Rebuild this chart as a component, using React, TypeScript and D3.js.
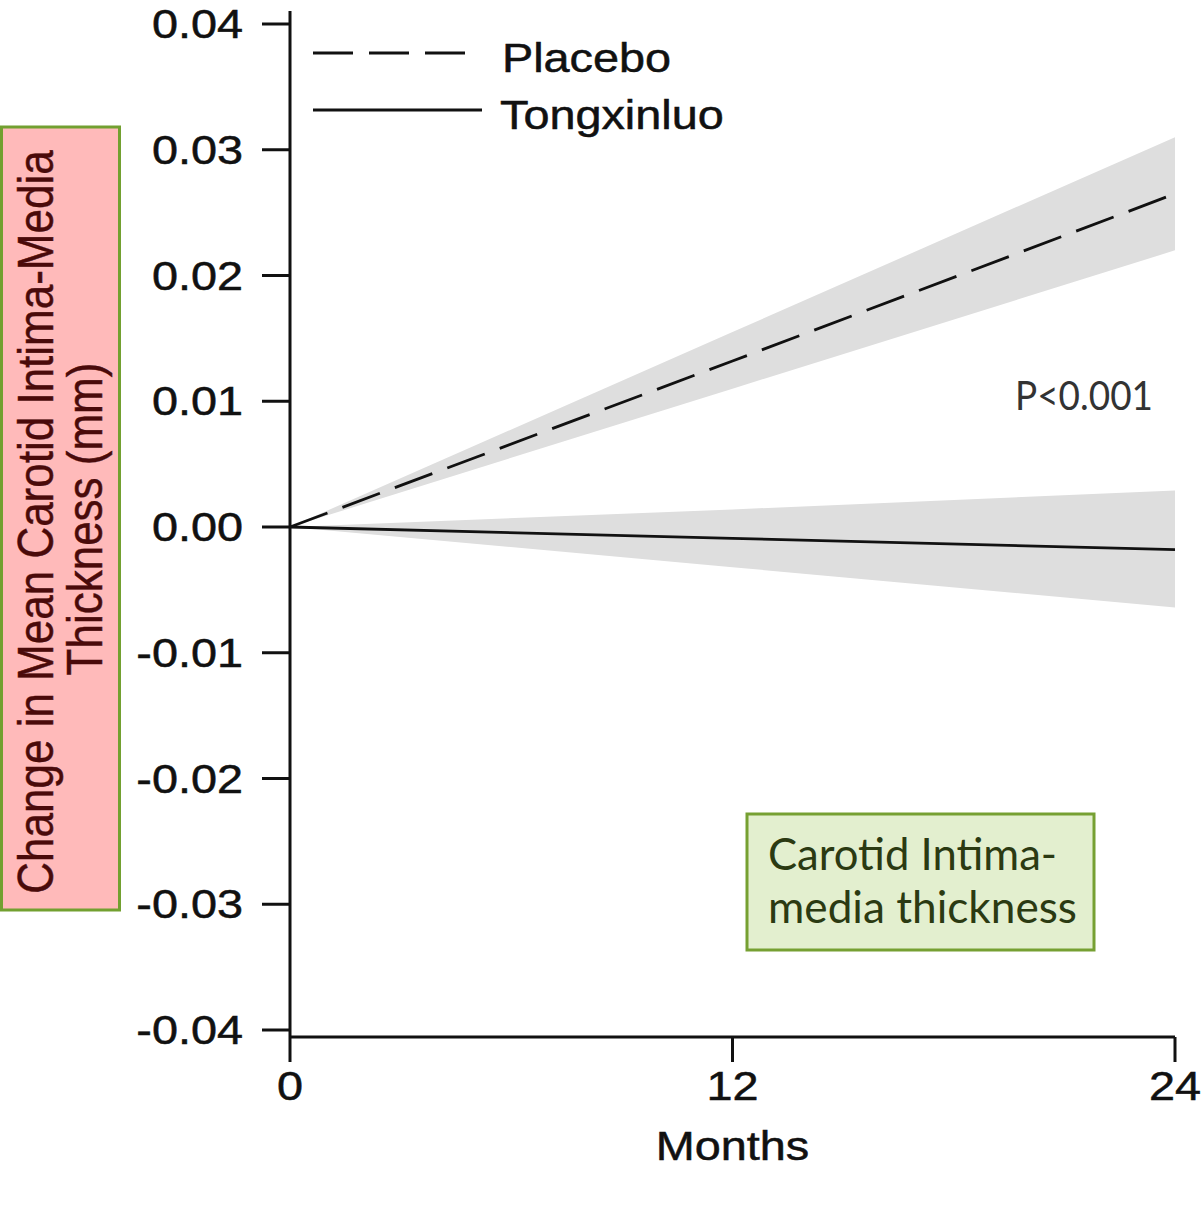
import React from 'react';
import * as d3 from 'd3';

const months = [0, 12, 24];
const placeboMean = [0, 0.0132, 0.0265];
const placeboLower = [0, 0.011, 0.022];
const placeboUpper = [0, 0.0155, 0.031];
const tongMean = [0, -0.0009, -0.0018];
const tongLower = [0, -0.0032, -0.0064];
const tongUpper = [0, 0.0014, 0.0029];

const yTicks = [0.04, 0.03, 0.02, 0.01, 0, -0.01, -0.02, -0.03, -0.04];
const xTicks = [0, 12, 24];
const legendLabels = ['Placebo', 'Tongxinluo'];

const W = 1204;
const H = 1224;
const ARIAL = 'Liberation Sans, Arial, sans-serif';
const SX = 1.17; // the original picture is stretched sideways

const x = d3.scaleLinear().domain([0, 24]).range([290, 1175]);
const y = d3.scaleLinear().domain([-0.04, 0.04]).range([1030, 24]);

type Row = { m: number; mean: number; lo: number; hi: number };

function rows(mean: number[], lo: number[], hi: number[]): Row[] {
  return months.map((m, i) => ({ m, mean: mean[i], lo: lo[i], hi: hi[i] }));
}

const area = d3
  .area<Row>()
  .x((d) => x(d.m))
  .y0((d) => y(d.lo))
  .y1((d) => y(d.hi));
const line = d3
  .line<Row>()
  .x((d) => x(d.m))
  .y((d) => y(d.mean));

function SText(props: {
  x: number;
  y: number;
  anchor?: string;
  size?: number;
  children: React.ReactNode;
}) {
  return (
    <text
      transform={`translate(${props.x},${props.y}) scale(${SX},1)`}
      textAnchor={props.anchor || 'start'}
      fontFamily={ARIAL}
      fontSize={props.size || 40}
      fill="#111"
      stroke="#111"
      strokeWidth={0.5}
    >
      {props.children}
    </text>
  );
}

export default function App() {
  const placebo = rows(placeboMean, placeboLower, placeboUpper);
  const tong = rows(tongMean, tongLower, tongUpper);
  const fmt = (v: number) => d3.format('.2f')(v).replace('−', '-');
  const axisY = y(-0.04) + 7;
  const sw = 3;

  return (
    <svg
      width={W}
      height={H}
      style={{ position: 'absolute', left: 0, top: 0, background: '#fff' }}
    >
      {/* confidence bands */}
      <path d={area(placebo) || ''} fill="#dedede" />
      <path d={area(tong) || ''} fill="#dedede" />

      {/* mean lines */}
      <path
        d={line(placebo) || ''}
        fill="none"
        stroke="#111"
        strokeWidth={2.8}
        strokeDasharray="40,16"
      />
      <path d={line(tong) || ''} fill="none" stroke="#111" strokeWidth={2.8} />

      {/* y axis */}
      <line x1={290} x2={290} y1={11} y2={axisY} stroke="#111" strokeWidth={sw} />
      {yTicks.map((t) => (
        <g key={t}>
          <line x1={262} x2={290} y1={y(t)} y2={y(t)} stroke="#111" strokeWidth={sw} />
          <SText x={243} y={y(t) + 14} anchor="end">
            {fmt(t)}
          </SText>
        </g>
      ))}

      {/* x axis */}
      <line x1={x(0)} x2={x(24)} y1={axisY} y2={axisY} stroke="#111" strokeWidth={sw} />
      {xTicks.map((t) => (
        <g key={t}>
          <line x1={x(t)} x2={x(t)} y1={axisY} y2={axisY + 25} stroke="#111" strokeWidth={sw} />
          <SText x={x(t)} y={1100} anchor="middle">
            {t}
          </SText>
        </g>
      ))}
      <SText x={x(12)} y={1160} anchor="middle">
        Months
      </SText>

      {/* legend */}
      <line x1={313} x2={467} y1={53} y2={53} stroke="#111" strokeWidth={3} strokeDasharray="40,16" />
      <line x1={313} x2={482} y1={110} y2={110} stroke="#111" strokeWidth={3} />
      <SText x={502} y={72}>{legendLabels[0]}</SText>
      <SText x={500} y={129}>{legendLabels[1]}</SText>

      {/* p value */}
      <text
        x={1015}
        y={410}
        fontFamily="Lato, sans-serif"
        fontSize={40}
        fill="#333"
        textLength={138}
        lengthAdjust="spacingAndGlyphs"
      >
        P&lt;0.001
      </text>

      {/* y label box */}
      <rect x={1.5} y={127} width={118} height={783} fill="#ffbaba" stroke="#72a030" strokeWidth={3} />
      <text
        transform={`translate(53,522) scale(1.15,1) rotate(-90)`}
        textAnchor="middle"
        fontFamily={ARIAL}
        fontSize={44}
        fill="#4a0a0a"
        stroke="#4a0a0a"
        strokeWidth={0.4}
      >
        Change in Mean Carotid Intima-Media
      </text>
      <text
        transform={`translate(102,519) scale(1.15,1) rotate(-90)`}
        textAnchor="middle"
        fontFamily={ARIAL}
        fontSize={44}
        fill="#4a0a0a"
        stroke="#4a0a0a"
        strokeWidth={0.4}
      >
        Thickness (mm)
      </text>

      {/* annotation box */}
      <rect x={747} y={814} width={347} height={136} fill="#e3efcf" stroke="#76a032" strokeWidth={3} />
      <text
        x={768}
        y={870}
        fontFamily="Lato, sans-serif"
        fontSize={44}
        fill="#2b3a12"
        textLength={289}
        lengthAdjust="spacingAndGlyphs"
      >
        Carotid Intima-
      </text>
      <text
        x={768}
        y={923}
        fontFamily="Lato, sans-serif"
        fontSize={44}
        fill="#2b3a12"
        textLength={309}
        lengthAdjust="spacingAndGlyphs"
      >
        media thickness
      </text>
    </svg>
  );
}
